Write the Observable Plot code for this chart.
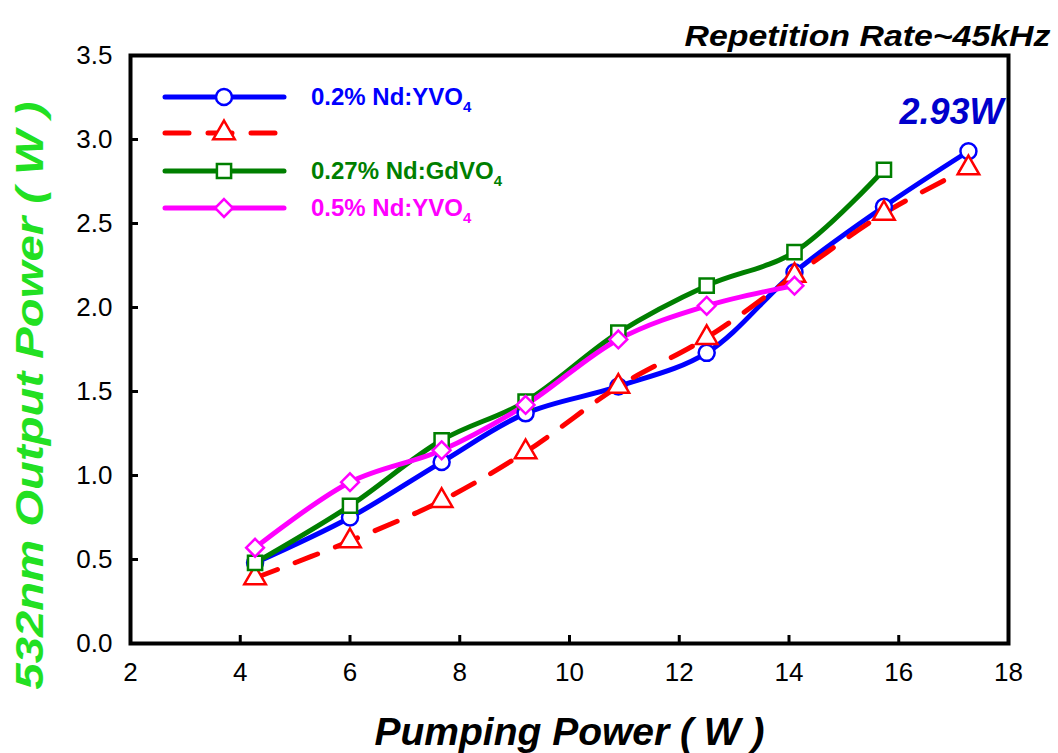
<!DOCTYPE html>
<html><head><meta charset="utf-8">
<script src="https://cdn.jsdelivr.net/npm/d3@7"></script>
<script src="https://cdn.jsdelivr.net/npm/@observablehq/plot@0.6"></script>
<style>
body{margin:0;background:#fff;}
#wrap{position:relative;width:1058px;height:753px;font-family:"Liberation Sans",Arial,sans-serif;}
#legend{position:absolute;left:0;top:0;pointer-events:none;}
</style>
</head><body><div id="wrap"></div>
<script>
// ---- data ----
const pumpPower = [4.27, 6.0, 7.67, 9.2, 10.89, 12.5, 14.1, 15.73, 17.27];
const yvo02   = [0.48, 0.75, 1.08, 1.37, 1.53, 1.73, 2.21, 2.60, 2.93];
const redSer  = [0.39, 0.61, 0.85, 1.14, 1.53, 1.82, 2.19, 2.56, 2.83];
const gdvo027 = [0.48, 0.82, 1.21, 1.44, 1.85, 2.13, 2.33, 2.82];
const yvo05   = [0.57, 0.96, 1.15, 1.42, 1.81, 2.01, 2.13];
const xTicks = [2, 4, 6, 8, 10, 12, 14, 16, 18];
const yTicks = [0, 0.5, 1.0, 1.5, 2.0, 2.5, 3.0, 3.5];
const seriesNames = ["0.2% Nd:YVO", "", "0.27% Nd:GdVO", "0.5% Nd:YVO"];
const titleText = "Repetition Rate~45kHz";
const xLabel = "Pumping Power ( W )";
const yLabel = "532nm Output Power ( W )";
const peakLabel = "2.93W";

// ---- styles ----
const styles = [
  {vals: yvo02, stroke: "#0000ff", symbol: "circle", dash: null},
  {vals: redSer, stroke: "#ff0000", symbol: "triangle", dash: "24,19"},
  {vals: gdvo027, stroke: "#007f00", symbol: "square", dash: null},
  {vals: yvo05, stroke: "#ff00ff", symbol: "diamond2", dash: null}
];
const toRows = vals => vals.map((v, i) => ({x: pumpPower[i], y: v}));

const W = 1058, H = 753, mL = 130, mR = 50, mT = 55, mB = 110;
const innerW = W - mL - mR, innerH = H - mT - mB;
const font = "'Liberation Sans', Arial, sans-serif";

const marks = [];
styles.forEach(s => {
  marks.push(Plot.line(toRows(s.vals), {x: "x", y: "y", curve: "catmull-rom", stroke: s.stroke, strokeWidth: 5,
    strokeDasharray: s.dash, strokeLinecap: "round", strokeLinejoin: "round"}));
});
styles.forEach(s => {
  marks.push(Plot.dot(toRows(s.vals), {x: "x", y: "y", symbol: s.symbol, r: 8, fill: "white", stroke: s.stroke, strokeWidth: 2.5}));
});
marks.push(
  Plot.tickX(xTicks.slice(1, -1), {x: d => d, insetTop: innerH - 8, stroke: "black", strokeWidth: 3}),
  Plot.tickY(yTicks.slice(1, -1), {y: d => d, insetRight: innerW - 8, stroke: "black", strokeWidth: 3}),
  Plot.frame({stroke: "black", strokeWidth: 4}),
  Plot.axisX({ticks: xTicks, tickSize: 0, tickPadding: 19, fontSize: 26, tickFormat: d => String(d)}),
  Plot.axisY({ticks: yTicks, tickSize: 0, tickPadding: 18, fontSize: 26, tickFormat: d => d.toFixed(1)}),
  Plot.text([peakLabel], {x: [pumpPower[8]], y: [yvo02[8]], text: d => d, dx: -17, dy: -39,
    fill: "#0000cc", fontSize: 36, fontWeight: "bold", fontStyle: "italic"}),
  Plot.text([titleText], {frameAnchor: "top-right", text: d => d, textAnchor: "end", dx: 42, dy: -30,
    fontSize: 29, fontWeight: "bold", fontStyle: "italic", fill: "black"}),
  Plot.text([xLabel], {frameAnchor: "bottom", text: d => d, textAnchor: "middle", dy: 101,
    fontSize: 39, fontWeight: "bold", fontStyle: "italic", fill: "black"}),
  Plot.text([yLabel], {frameAnchor: "left", text: d => d, textAnchor: "middle", rotate: -90, dx: -100, dy: 46,
    fontSize: 38, fontWeight: "bold", fontStyle: "italic", fill: "#22e022"})
);

const chart = Plot.plot({
  width: W, height: H, marginLeft: mL, marginRight: mR, marginTop: mT, marginBottom: mB,
  style: {fontFamily: font, background: "white", color: "black", overflow: "visible"},
  x: {domain: [2, 18], label: null},
  y: {domain: [0, 3.5], label: null},
  marks
});
// stretch title and y label to the reference's text widths
d3.select(chart).selectAll("text").each(function() {
  if (this.textContent === titleText) d3.select(this).attr("textLength", 366).attr("lengthAdjust", "spacingAndGlyphs");
  if (this.textContent === yLabel) d3.select(this).attr("textLength", 588).attr("lengthAdjust", "spacingAndGlyphs");
});
const wrap = document.getElementById("wrap");
wrap.appendChild(chart);

// ---- legend overlay ----
const leg = d3.select(wrap).append("svg").attr("id", "legend").attr("width", W).attr("height", H);
const rowsY = [97, 133, 171, 208];
const symMap = {circle: d3.symbolCircle, triangle: d3.symbolTriangle, square: d3.symbolSquare, diamond2: d3.symbolDiamond2};
styles.forEach((s, i) => {
  const y = rowsY[i];
  leg.append("line").attr("x1", 165).attr("x2", 284).attr("y1", y).attr("y2", y)
    .attr("stroke", s.stroke).attr("stroke-width", 5).attr("stroke-linecap", "round")
    .attr("stroke-dasharray", s.dash);
  leg.append("path").attr("transform", `translate(224,${y})`)
    .attr("d", d3.symbol(symMap[s.symbol], 64 * Math.PI)())
    .attr("fill", "white").attr("stroke", s.stroke).attr("stroke-width", 2.5);
  if (seriesNames[i]) {
    const t = leg.append("text").attr("x", 311).attr("y", y + 8)
      .attr("fill", s.stroke).attr("font-family", font).attr("font-weight", "bold").attr("font-size", 24);
    t.append("tspan").text(seriesNames[i]);
    t.append("tspan").attr("font-size", 15).attr("dy", 7).text("4");
  }
});
</script>
</body></html>
